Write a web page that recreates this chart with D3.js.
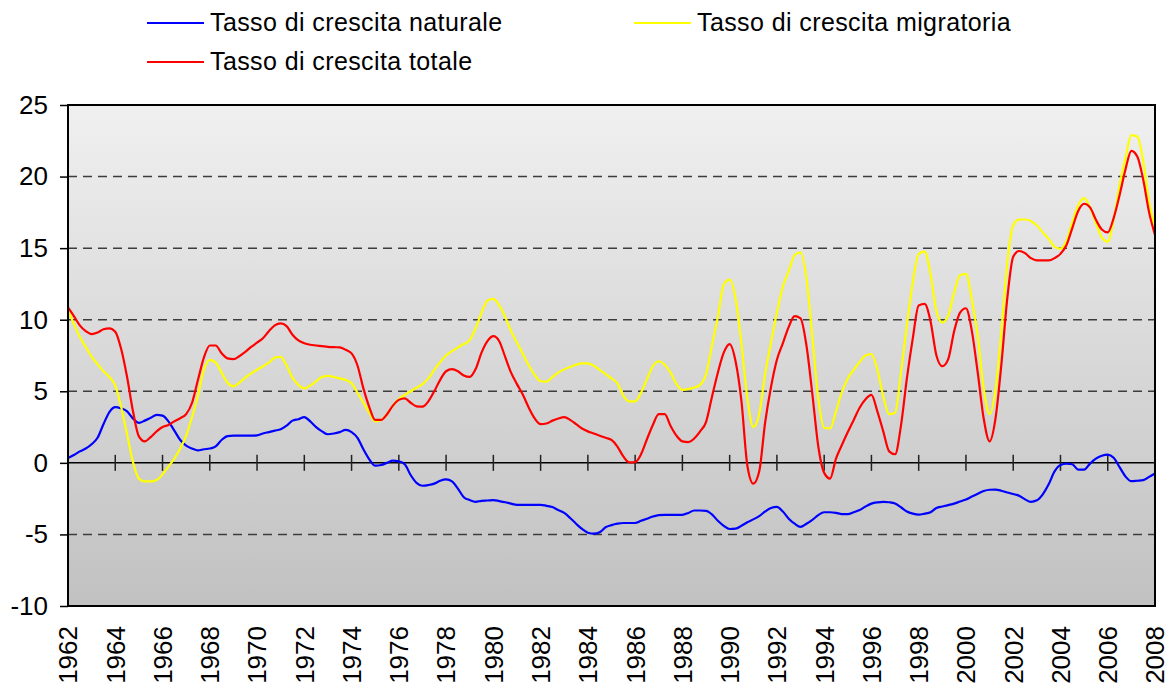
<!DOCTYPE html>
<html>
<head>
<meta charset="utf-8">
<script src="https://cdn.jsdelivr.net/npm/d3@7"></script>
<style>
  body { margin: 0; background: #fff; }
  text { font-family: "Liberation Sans", Arial, sans-serif; fill: #000; }
</style>
</head>
<body>
<div id="container"></div>
<script>

// tick labels on the x axis (every 2 years)
var yearLabels = ["1962","1964","1966","1968","1970","1972","1974","1976","1978","1980",
  "1982","1984","1986","1988","1990","1992","1994","1996","1998","2000","2002","2004","2006","2008"];
var yTicks = [25, 20, 15, 10, 5, 0, -5, -10];

// quarterly readings, 1962.00 .. 2008.00
var naturale = [
  0.33,0.55,0.8,1.0, 1.3,1.75,2.7,3.55, 3.9,3.8,3.6,3.1, 2.8,2.95,3.15,3.35,
  3.3,2.9,2.25,1.6, 1.2,1.0,0.87,0.95, 1.0,1.15,1.6,1.87, 1.9,1.9,1.9,1.9,
  1.92,2.05,2.15,2.25, 2.35,2.6,2.95,3.05, 3.2,2.9,2.5,2.2, 2.0,2.05,2.15,2.3,
  2.15,1.75,0.95,0.25, -0.2,-0.15,0.0,0.15, 0.1,-0.1,-0.85,-1.4, -1.6,-1.55,-1.45,-1.25,
  -1.15,-1.3,-1.8,-2.4, -2.6,-2.72,-2.65,-2.63, -2.6,-2.67,-2.75,-2.85, -2.93,-2.93,-2.93,-2.93,
  -2.93,-3.0,-3.09,-3.3, -3.5,-3.85,-4.25,-4.62, -4.88,-4.95,-4.85,-4.5, -4.35,-4.25,-4.2,-4.2,
  -4.2,-4.05,-3.9,-3.75, -3.65,-3.63,-3.63,-3.63, -3.63,-3.5,-3.33,-3.33, -3.35,-3.6,-4.05,-4.4,
  -4.62,-4.6,-4.4,-4.15, -3.95,-3.72,-3.4,-3.15, -3.07,-3.4,-3.9,-4.25, -4.47,-4.25,-3.98,-3.65,
  -3.45,-3.45,-3.49,-3.58, -3.58,-3.45,-3.3,-3.05, -2.85,-2.76,-2.72,-2.75, -2.84,-3.1,-3.4,-3.55,
  -3.62,-3.55,-3.45,-3.15, -3.05,-2.95,-2.85,-2.7, -2.56,-2.35,-2.15,-1.97, -1.88,-1.87,-1.95,-2.07,
  -2.18,-2.3,-2.55,-2.72, -2.62,-2.2,-1.5,-0.6, -0.15,-0.05,-0.1,-0.47, -0.47,-0.05,0.3,0.5,
  0.58,0.35,-0.3,-0.95, -1.28,-1.25,-1.21,-0.98, -0.74
];
var migratoria = [
  10.67,9.7,8.8,8.1, 7.42,6.9,6.4,6.0, 5.4,3.9,2.0,0.05, -1.1,-1.3,-1.3,-1.2,
  -0.8,-0.26,0.3,1.0, 1.9,3.2,4.7,6.5, 7.2,7.0,6.3,5.6, 5.35,5.6,5.95,6.25,
  6.5,6.75,7.0,7.35, 7.4,6.8,5.95,5.45, 5.2,5.4,5.7,6.0, 6.07,6.0,5.9,5.8,
  5.56,4.9,4.2,3.5, 2.9,3.0,3.4,4.0, 4.45,4.75,5.0,5.25, 5.5,5.9,6.5,7.05,
  7.5,7.8,8.07,8.3, 8.58,9.4,10.5,11.35, 11.45,11.0,10.2,9.2, 8.4,7.6,6.8,6.15,
  5.7,5.67,6.0,6.3, 6.53,6.7,6.85,6.95, 6.95,6.78,6.5,6.2, 5.9,5.56,4.7,4.3,
  4.3,4.9,5.85,6.75, 7.1,6.85,6.3,5.5, 5.1,5.15,5.26,5.45, 6.2,8.2,10.2,12.45,
  12.8,11.5,8.3,4.5, 2.5,3.4,6.2,8.4, 10.5,12.3,13.4,14.5, 14.7,12.9,8.8,4.5,
  2.45,2.4,3.6,4.95, 5.9,6.5,7.05,7.5, 7.6,6.5,4.65,3.4, 3.5,6.3,9.6,12.6,
  14.6,14.75,13.2,10.6, 9.8,10.3,11.9,13.1, 13.2,11.4,8.84,5.2, 3.4,5.1,9.2,14.0,
  16.6,17.0,17.0,16.9, 16.6,16.1,15.65,15.1, 14.95,15.5,16.8,18.0, 18.5,17.85,16.74,15.75,
  15.45,17.0,19.4,21.3, 22.9,22.8,21.1,18.2, 16.5
];
var totale = [
  10.86,10.25,9.6,9.2, 9.0,9.1,9.33,9.4, 9.16,7.95,6.0,3.6, 1.85,1.5,1.8,2.2,
  2.5,2.65,2.9,3.12, 3.4,4.2,5.8,7.35, 8.2,8.2,7.65,7.3, 7.25,7.45,7.75,8.1,
  8.4,8.7,9.2,9.6, 9.74,9.55,8.95,8.55, 8.35,8.25,8.2,8.15, 8.1,8.08,8.07,7.9,
  7.65,6.8,5.2,3.9, 3.0,3.0,3.4,4.0, 4.4,4.5,4.2,3.95, 3.93,4.3,5.0,5.8,
  6.4,6.55,6.4,6.1, 6.0,6.55,7.7,8.5, 8.85,8.5,7.4,6.3, 5.5,4.75,3.85,3.1,
  2.7,2.75,2.95,3.1, 3.19,3.0,2.7,2.4, 2.2,2.05,1.9,1.75, 1.6,1.14,0.45,0.03,
  0.05,0.6,1.65,2.65, 3.4,3.4,2.58,1.9, 1.5,1.45,1.7,2.2, 2.85,4.6,6.3,7.7,
  8.3,7.1,4.3,-0.2, -1.45,-0.6,2.8,5.3, 7.2,8.35,9.5,10.25, 10.1,8.2,4.8,1.16,
  -0.7,-1.1,0.3,1.25, 2.15,3.0,3.85,4.45, 4.75,3.6,2.2,0.8, 0.6,2.6,5.9,8.7,
  11.0,11.1,9.9,7.5, 6.75,7.25,9.2,10.5, 10.8,9.2,6.28,3.1, 1.5,3.1,6.9,11.5,
  14.4,14.8,14.65,14.3, 14.14,14.14,14.14,14.3, 14.6,15.2,16.4,17.6, 18.1,17.85,16.98,16.3,
  16.1,17.1,18.7,20.5, 21.8,21.4,19.8,17.5, 15.93
];

var seriesNames = ["Tasso di crescita naturale", "Tasso di crescita migratoria", "Tasso di crescita totale"];
var seriesColors = ["#0000ff", "#ffff00", "#ff0000"];

var width = 1167, height = 686;
var plotL = 68, plotR = 1155, plotT = 105, plotB = 606;

var svg = d3.select("#container").append("svg")
    .attr("width", width)
    .attr("height", height);

var grad = svg.append("defs").append("linearGradient")
    .attr("id", "bg")
    .attr("x1", 0).attr("y1", 0).attr("x2", 0).attr("y2", 1);
grad.append("stop").attr("offset", "0%").attr("stop-color", "#f0f0f0");
grad.append("stop").attr("offset", "100%").attr("stop-color", "#c1c1c1");

var x = d3.scaleLinear().domain([1962, 2008]).range([plotL, plotR]);
var y = d3.scaleLinear().domain([-10, 25]).range([plotB, plotT]);

// plot background
svg.append("rect")
    .attr("x", plotL).attr("y", plotT)
    .attr("width", plotR - plotL).attr("height", plotB - plotT)
    .attr("fill", "url(#bg)");

// dashed gridlines
svg.append("g").selectAll("line")
    .data(yTicks.filter(function(d) { return d !== 0 && d !== 25 && d !== -10; }))
    .enter().append("line")
    .attr("x1", plotL).attr("x2", plotR)
    .attr("y1", function(d) { return y(d); })
    .attr("y2", function(d) { return y(d); })
    .attr("stroke", "#3c3c3c")
    .attr("stroke-width", 1.5)
    .attr("stroke-dasharray", "9,6");

// y axis (plain hyphen for negatives)
var yAxis = d3.axisLeft(y).tickValues(yTicks).tickSize(8).tickPadding(12)
    .tickFormat(function(d) { return String(d); });
var gy = svg.append("g").attr("transform", "translate(" + plotL + ",0)").call(yAxis);
gy.select(".domain").remove();
gy.selectAll(".tick line").attr("stroke", "#000").attr("stroke-width", 1.5);
gy.selectAll("text")
    .style("font-family", "'Liberation Sans', Arial, sans-serif")
    .style("font-size", "26px")
    .attr("fill", "#000");

// x axis on the zero line
var tickYears = yearLabels.map(function(d) { return +d; });
svg.append("line")
    .attr("x1", plotL).attr("x2", plotR)
    .attr("y1", y(0)).attr("y2", y(0))
    .attr("stroke", "#000").attr("stroke-width", 1.5);
svg.append("g").selectAll("line")
    .data(tickYears)
    .enter().append("line")
    .attr("x1", function(d) { return x(d); })
    .attr("x2", function(d) { return x(d); })
    .attr("y1", y(0) - 8).attr("y2", y(0) + 8)
    .attr("stroke", "#222").attr("stroke-width", 1.5);

// rotated year labels
svg.append("g").selectAll("text")
    .data(yearLabels)
    .enter().append("text")
    .attr("transform", function(d) { return "translate(" + x(+d) + ",626) rotate(-90)"; })
    .attr("text-anchor", "end")
    .attr("dy", "0.36em")
    .style("font-size", "26px")
    .text(function(d) { return d; });

// lines
var allSeries = [naturale, migratoria, totale];
var line = d3.line()
    .x(function(d, i) { return x(1962 + i / 4); })
    .y(function(d) { return y(d); })
    .curve(d3.curveMonotoneX);

svg.append("g").selectAll("path")
    .data(allSeries)
    .enter().append("path")
    .attr("d", line)
    .attr("fill", "none")
    .attr("stroke", function(d, i) { return seriesColors[i]; })
    .attr("stroke-width", 2.2)
    .attr("stroke-linejoin", "round");

// plot frame
svg.append("rect")
    .attr("x", plotL).attr("y", plotT)
    .attr("width", plotR - plotL).attr("height", plotB - plotT)
    .attr("fill", "none")
    .attr("stroke", "#000")
    .attr("stroke-width", 2);

// legend
var legendPos = [[147, 23], [634, 23], [147, 62]];
var legend = svg.append("g").selectAll("g")
    .data(seriesNames)
    .enter().append("g")
    .attr("transform", function(d, i) { return "translate(" + legendPos[i][0] + "," + legendPos[i][1] + ")"; });
legend.append("line")
    .attr("x1", 0).attr("x2", 57)
    .attr("stroke", function(d, i) { return seriesColors[i]; })
    .attr("stroke-width", 2.2);
legend.append("text")
    .attr("x", 63).attr("y", 8)
    .style("font-size", "25px")
    .style("letter-spacing", "0.4px")
    .text(function(d) { return d; });

</script>
</body>
</html>
